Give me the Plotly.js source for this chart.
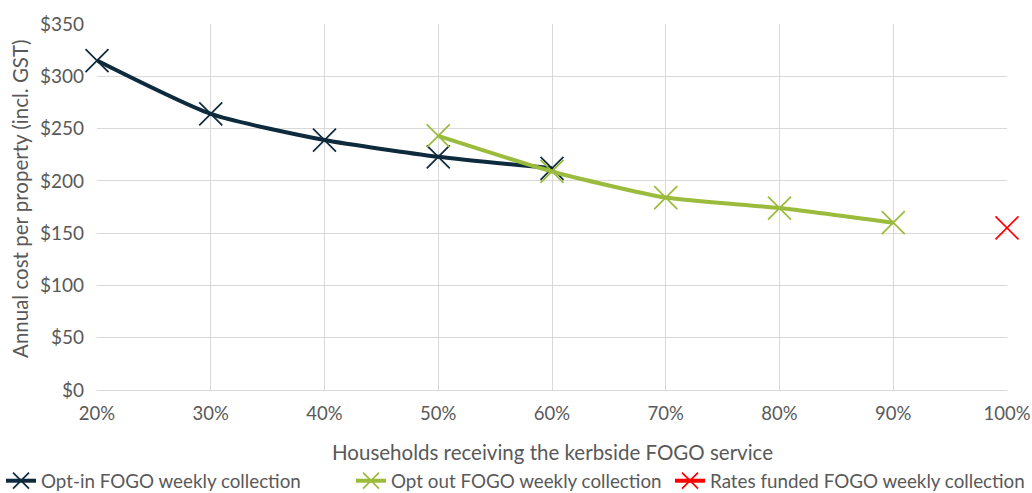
<!DOCTYPE html>
<html>
<head>
<meta charset="utf-8">
<script src="https://cdn.plot.ly/plotly-3.0.1.min.js"></script>
<style>
  html, body { margin: 0; padding: 0; background: #fff; }
  #chart { width: 1032px; height: 493px; }
</style>
</head>
<body>
<div id="chart"></div>
<script>
// Share of households receiving the service (%)
const optInCoverage = [20, 30, 40, 50, 60];
const optInCost = [315, 264, 239, 223, 212];

const optOutCoverage = [50, 60, 70, 80, 90];
const optOutCost = [243, 209, 184, 174, 160];

const ratesCoverage = [100];
const ratesCost = [155];

const xTicks = [20, 30, 40, 50, 60, 70, 80, 90, 100];
const yTicks = [0, 50, 100, 150, 200, 250, 300, 350];

const xTitle = 'Households receiving the kerbside FOGO service';
const yTitle = 'Annual cost per property (incl. GST)';

const textGrey = '#595959';
const gridGrey = '#d9d9d9';

function series(name, x, y, color, legendId) {
  return {
    type: 'scatter',
    mode: 'lines+markers',
    name: name,
    x: x,
    y: y,
    legend: legendId,
    cliponaxis: false,
    line: { color: color, width: 4, shape: 'spline', smoothing: 0.6 },
    marker: { symbol: 'x-thin', size: 23, line: { color: color, width: 1.7 }, color: color }
  };
}

const traces = [
  series('Opt-in FOGO weekly collection', optInCoverage, optInCost, '#0e2a3d', 'legend'),
  series('Opt out FOGO weekly collection', optOutCoverage, optOutCost, '#9bbb3c', 'legend2'),
  series('Rates funded FOGO weekly collection', ratesCoverage, ratesCost, '#ff0000', 'legend3')
];

// one single-entry legend per series, laid out in a row under the axis title
function legendAt(px) {
  return {
    orientation: 'h',
    xref: 'container',
    yref: 'container',
    x: px / 1032,
    xanchor: 'left',
    y: 1 - 481 / 493,
    yanchor: 'middle',
    font: { size: 18.8, color: textGrey },
    itemwidth: 30,
    bgcolor: 'rgba(0,0,0,0)'
  };
}

const layout = {
  width: 1032,
  height: 493,
  margin: { l: 97, r: 25, t: 24, b: 103, autoexpand: false },
  paper_bgcolor: '#ffffff',
  plot_bgcolor: '#ffffff',
  font: { family: 'Lato, "Open Sans", sans-serif', size: 20, color: textGrey },
  showlegend: true,
  legend: legendAt(1),
  legend2: legendAt(351),
  legend3: legendAt(670),
  xaxis: {
    range: [20, 100],
    tickvals: xTicks,
    ticktext: xTicks.map(v => v + '%'),
    showgrid: true,
    gridcolor: gridGrey,
    gridwidth: 1,
    zeroline: false,
    showline: false,
    ticks: '',
    ticklabelstandoff: 10,
    tickfont: { size: 18.5, color: textGrey },
    fixedrange: true
  },
  yaxis: {
    range: [0, 350],
    tickvals: yTicks,
    ticktext: yTicks.map(v => '$' + v),
    showgrid: true,
    gridcolor: gridGrey,
    gridwidth: 1,
    zeroline: true,
    zerolinecolor: gridGrey,
    zerolinewidth: 1,
    showline: false,
    ticks: '',
    ticklabelstandoff: 12,
    tickfont: { size: 19, color: textGrey },
    fixedrange: true
  },
  annotations: [
    {
      text: xTitle,
      xref: 'paper', yref: 'paper',
      x: 0.5, y: -0.169,
      xanchor: 'center', yanchor: 'middle',
      showarrow: false,
      font: { size: 20.5, color: textGrey }
    },
    {
      text: yTitle,
      xref: 'paper', yref: 'paper',
      x: -0.0846, y: 0.522,
      xanchor: 'center', yanchor: 'middle',
      textangle: -90,
      showarrow: false,
      font: { size: 20.5, color: textGrey }
    }
  ]
};

Plotly.newPlot('chart', traces, layout, { displayModeBar: false, staticPlot: true });
</script>
</body>
</html>
